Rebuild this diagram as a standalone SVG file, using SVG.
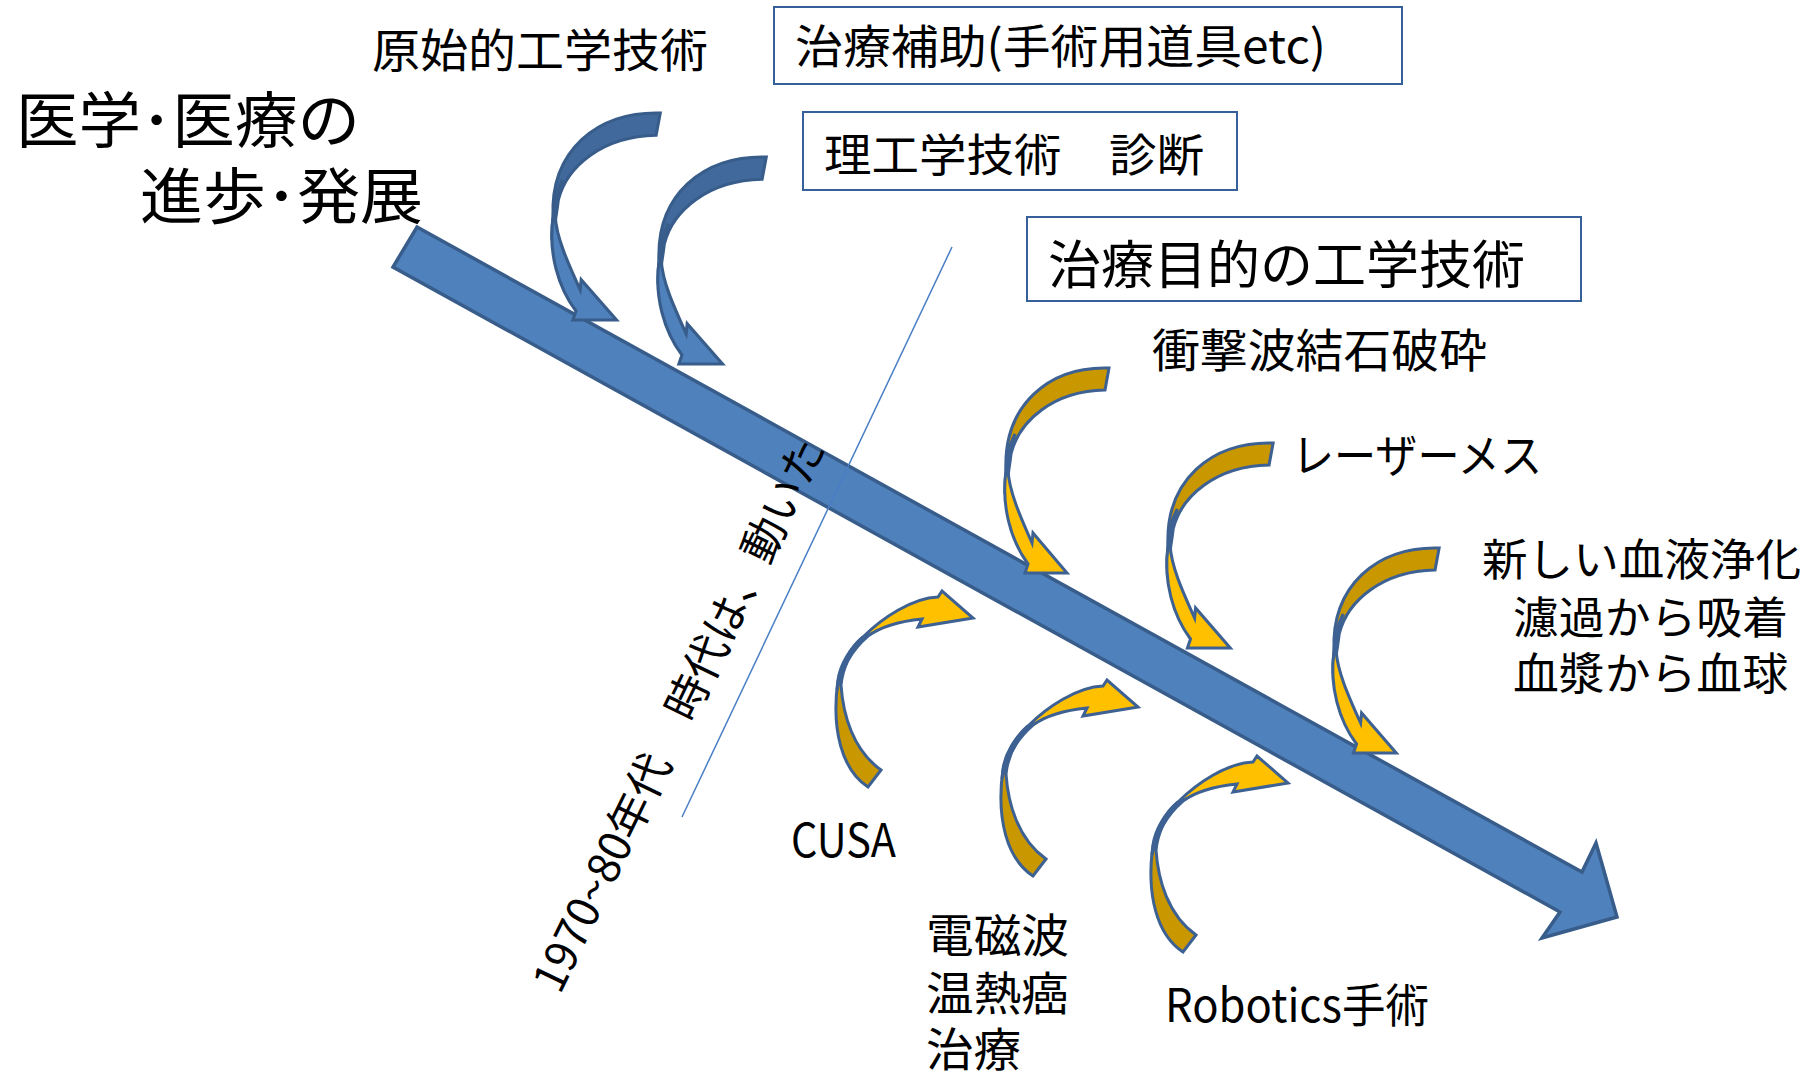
<svg xmlns="http://www.w3.org/2000/svg" xmlns:xlink="http://www.w3.org/1999/xlink" width="1815" height="1072" viewBox="0 0 1815 1072">
<style>
text{font-family:"Noto Sans CJK JP","Noto Sans",sans-serif;fill:#000}
.box{fill:#fff;stroke:#36609A;stroke-width:2}
.main{fill:#4F81BD;stroke:#385D8A;stroke-width:3.5;stroke-linejoin:miter}
.bb{fill:#41699C;stroke:#385D8A;stroke-width:3}
.bf{fill:#4F81BD;stroke:#385D8A;stroke-width:3}
.gb{fill:#C99700;stroke:#3D6192;stroke-width:3}
.gf{fill:#FFC000;stroke:#3D6192;stroke-width:3}
.thin{stroke:#4A7EC5;stroke-width:1.5;fill:none}
</style>
<defs>
<g id="downBlue">
<path class="bb" d="M106,2 C45,0 0,40 3,105 C2,112 2,120 2,128 C4,115 6,105 8,88 C16,55 50,25 102,24 Z"/>
<path class="bf" d="M12,68 C6,80 3,92 3,105 C-2,140 8,175 25,198 L22,207 L64,207 L30,167 L29,177 C17,150 6,125 5,104 C5,92 8,80 12,68 Z"/>
</g>
<g id="downGold">
<path class="gb" d="M106,2 C45,0 0,40 3,105 C2,112 2,120 2,128 C4,115 6,105 8,88 C16,55 50,25 102,24 Z"/>
<path class="gf" d="M12,68 C6,80 3,92 3,105 C-2,140 8,175 25,198 L22,207 L64,207 L30,167 L29,177 C17,150 6,125 5,104 C5,92 8,80 12,68 Z"/>
</g>
<g id="upGold">
<path class="gb" d="M36,197 C10,180 -1,140 6,90 C8,75 18,58 31,47 C20,60 11,75 9,95 C11,125 21,160 49,180 Z"/>
<path class="gf" d="M5,100 C6,80 18,58 31,47 C50,28 80,8 106,7 L110,1 L141,28 L86,37 L90,29 C70,31 50,36 36,46 C22,58 10,75 5,100 Z"/>
</g>
</defs>

<g id="connectors">
<polygon id="main-arrow" class="main" points="417,227 1582,872 1596,843 1617,917 1542,938 1560,912 393,267"/>
<line id="era-line" class="thin" x1="952" y1="247" x2="682" y2="817"/>
<use id="arrow-blue1" xlink:href="#downBlue" transform="translate(550,111) scale(1.04,1.01)"/>
<use id="arrow-blue2" xlink:href="#downBlue" transform="translate(656,155) scale(1.04,1.01)"/>
<use id="arrow-shock" xlink:href="#downGold" transform="translate(1003,366)"/>
<use id="arrow-laser" xlink:href="#downGold" transform="translate(1165,441) scale(1.02,1)"/>
<use id="arrow-blood" xlink:href="#downGold" transform="translate(1331,546) scale(1.02,1)"/>
<use id="arrow-cusa" xlink:href="#upGold" transform="translate(832,590)"/>
<use id="arrow-em" xlink:href="#upGold" transform="translate(997,679)"/>
<use id="arrow-robot" xlink:href="#upGold" transform="translate(1147,755)"/>
</g>

<g id="title">
<text x="16" y="143" font-size="61" textLength="344" lengthAdjust="spacingAndGlyphs">医学･医療の</text>
<text x="140" y="219" font-size="61" textLength="283" lengthAdjust="spacingAndGlyphs">進歩･発展</text>
</g>

<g id="primitive">
<text x="372" y="67" font-size="46" textLength="336" lengthAdjust="spacingAndGlyphs">原始的工学技術</text>
</g>

<g id="box-assist">
<rect class="box" x="774" y="7" width="628" height="77"/>
<text x="795" y="63" font-size="46" textLength="531" lengthAdjust="spacingAndGlyphs">治療補助(手術用道具etc)</text>
</g>

<g id="box-diag">
<rect class="box" x="803" y="112" width="434" height="78"/>
<text x="824" y="172" font-size="45" textLength="380" lengthAdjust="spacingAndGlyphs">理工学技術　診断</text>
</g>

<g id="box-therapy">
<rect class="box" x="1027" y="217" width="554" height="84"/>
<text x="1048" y="284" font-size="52" textLength="477" lengthAdjust="spacingAndGlyphs">治療目的の工学技術</text>
</g>

<g id="era-text">
<text transform="translate(560,995.6) rotate(-64.1)" font-size="44" textLength="609" lengthAdjust="spacingAndGlyphs">1970~80年代　時代は、動いた</text>
</g>

<g id="shock">
<text x="1152" y="367" font-size="46" textLength="335" lengthAdjust="spacingAndGlyphs">衝撃波結石破砕</text>
</g>
<g id="laser">
<text x="1292" y="472" font-size="46" textLength="250" lengthAdjust="spacingAndGlyphs">レーザーメス</text>
</g>
<g id="blood">
<text x="1482" y="576" font-size="44" textLength="319" lengthAdjust="spacingAndGlyphs">新しい血液浄化</text>
<text x="1513" y="634" font-size="44" textLength="275" lengthAdjust="spacingAndGlyphs">濾過から吸着</text>
<text x="1513" y="690" font-size="44" textLength="275" lengthAdjust="spacingAndGlyphs">血漿から血球</text>
</g>
<g id="cusa">
<text x="791" y="857" font-size="46" textLength="105" lengthAdjust="spacingAndGlyphs">CUSA</text>
</g>
<g id="em">
<text x="926" y="952" font-size="46" textLength="143" lengthAdjust="spacingAndGlyphs">電磁波</text>
<text x="926" y="1010" font-size="46" textLength="143" lengthAdjust="spacingAndGlyphs">温熱癌</text>
<text x="926" y="1066" font-size="46" textLength="95" lengthAdjust="spacingAndGlyphs">治療</text>
</g>
<g id="robot">
<text x="1165" y="1022" font-size="46" textLength="264" lengthAdjust="spacingAndGlyphs">Robotics手術</text>
</g>
</svg>
